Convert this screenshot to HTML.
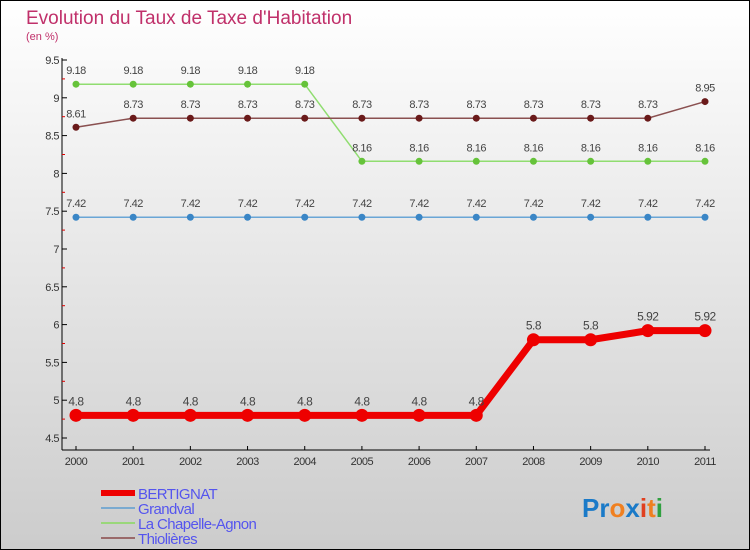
<!DOCTYPE html>
<html><head><meta charset="utf-8"><style>
body{margin:0}
svg{display:block;font-family:"Liberation Sans",sans-serif}
</style></head><body>
<svg id="c" width="750" height="550" xmlns="http://www.w3.org/2000/svg">
<defs><linearGradient id="bg" x1="0" y1="0" x2="0" y2="1"><stop offset="0" stop-color="#ffffff"/><stop offset="1" stop-color="#cccccc"/></linearGradient></defs>
<rect x="0.5" y="0.5" width="749" height="549" fill="url(#bg)" stroke="#000"/>
<text x="26" y="24" font-size="19" fill="#c0306a">Evolution du Taux de Taxe d'Habitation</text>
<text x="26" y="40" font-size="11" fill="#c0306a">(en %)</text>
<g id="axes"></g><g id="series"></g><g id="legend"></g>
<text x="582" y="517" font-size="26" font-weight="bold"><tspan fill="#1a7ac8">Pr</tspan><tspan fill="#f08020">o</tspan><tspan fill="#1a7ac8">x</tspan><tspan fill="#e04020">i</tspan><tspan fill="#f08020">t</tspan><tspan fill="#30a040">i</tspan></text>
</svg>
<script>
const years=[2000,2001,2002,2003,2004,2005,2006,2007,2008,2009,2010,2011];
const yTicks=[4.5,5,5.5,6,6.5,7,7.5,8,8.5,9,9.5];
const bertignat=[4.8,4.8,4.8,4.8,4.8,4.8,4.8,4.8,5.8,5.8,5.92,5.92];
const grandval=[7.42,7.42,7.42,7.42,7.42,7.42,7.42,7.42,7.42,7.42,7.42,7.42];
const chapelle=[9.18,9.18,9.18,9.18,9.18,8.16,8.16,8.16,8.16,8.16,8.16,8.16];
const thiolieres=[8.61,8.73,8.73,8.73,8.73,8.73,8.73,8.73,8.73,8.73,8.73,8.95];
const NS="http://www.w3.org/2000/svg";
const X=i=>76+i*(629/11);
const Y=v=>438-(v-4.5)*75.6;
function mk(p,t,a){const e=document.createElementNS(NS,t);for(const k in a)e.setAttribute(k,a[k]);p.appendChild(e);return e;}
const ax=document.getElementById('axes');
let l=mk(ax,'line',{x1:62,y1:58,x2:62,y2:450,stroke:'#000'});

l=mk(ax,'line',{x1:62,y1:450,x2:710,y2:450,stroke:'#000'});

yTicks.forEach((v,i)=>{
 mk(ax,'line',{x1:62,y1:Y(v),x2:67,y2:Y(v),stroke:'#000'});
 if(i<yTicks.length-1)mk(ax,'line',{x1:62,y1:Y(v+0.25),x2:65,y2:Y(v+0.25),stroke:'#d00'});
 const t=mk(ax,'text',{x:59,y:Y(v)+4,'font-size':11,'text-anchor':'end',fill:'#333','letter-spacing':'-0.5'});
 t.textContent=String(v);
 
});
years.forEach((y,i)=>{
 mk(ax,'line',{x1:X(i),y1:446,x2:X(i),y2:450,stroke:'#000'});
 const t=mk(ax,'text',{x:X(i),y:465,'font-size':11,'text-anchor':'middle',fill:'#333','letter-spacing':'-0.5'});
 t.textContent=y;
 
});
const sg=document.getElementById('series');
function series(vals,name,color,dot,w,r,fs){
 const g=mk(sg,'g',{});
 
 const p=mk(g,'polyline',{points:vals.map((v,i)=>X(i)+','+Y(v)).join(' '),fill:'none',stroke:color,'stroke-width':w});
 
 vals.forEach((v,i)=>{
  const c=mk(g,'circle',{cx:X(i),cy:Y(v),r:r,fill:dot});
  
  const t=mk(g,'text',{x:X(i),y:Y(v)-10,'font-size':fs,'text-anchor':'middle',fill:'#444','letter-spacing':'-0.5'});
  t.textContent=String(v);
  
 });
}
series(grandval,'grandval','#6aa6d6','#3a86c6',1.5,3.5,11);
series(chapelle,'la-chapelle-agnon','#90dd70','#66c33a',1.5,3.5,11);
series(thiolieres,'thiolieres','#8a5050','#6a1a1a',1.5,3.5,11);
series(bertignat,'bertignat','#ee0000','#ee0000',7,6.5,12);
const lg=document.getElementById('legend');
[['BERTIGNAT','#ee0000',6],['Grandval','#7aaad0',2],['La Chapelle-Agnon','#9ad77a',2],['Thiolières','#9a6a6a',2]].forEach((d,i)=>{
 const y=493+i*15;
 const ln=mk(lg,'line',{x1:101,y1:y,x2:135,y2:y,stroke:d[1],'stroke-width':d[2]});
 
 const t=mk(lg,'text',{x:138,y:y+6,'font-size':15,fill:'#5555ee','letter-spacing':'-0.6'});
 t.textContent=d[0];
 
});
</script>
</body></html>
